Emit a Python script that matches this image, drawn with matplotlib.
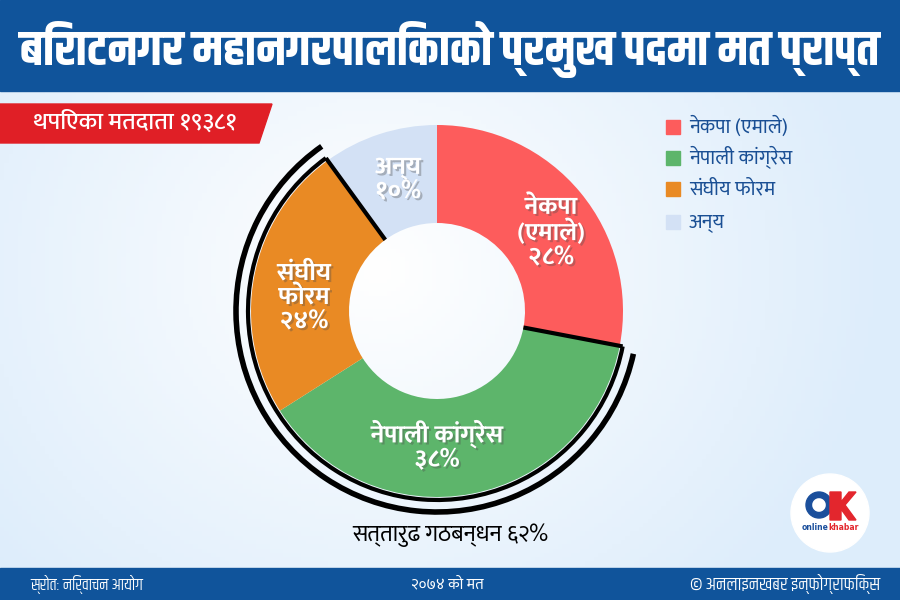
import numpy as np
import matplotlib
matplotlib.use('Agg')
from matplotlib import pyplot as plt
from matplotlib.patches import Rectangle, Polygon, Circle, Arc, Wedge
import matplotlib.patheffects as pe

# data
parties = ['नेकपा (एमाले)', 'नेपाली कांग्रेस', 'संघीय फोरम', 'अन्य']
labels_in = ['नेकपा\n(एमाले)\n२८%', 'नेपाली कांग्रेस\n३८%', 'संघीय\nफोरम\n२४%', 'अन्य\n१०%']
shares = [28, 38, 24, 10]
coalition = [1, 2]   # congress + forum
colors = ['#fd5c5c', '#5db56b', '#e98a24', '#d3e1f5']

title = 'बिराटनगर महानगरपालिकाको प्रमुख पदमा मत प्राप्त'
voters = 'थपिएका मतदाता १९३८१'
caption = 'सत्तारुढ गठबन्धन ६२%'
source = 'स्रोत: निर्वाचन आयोग'
year = '२०७४ को मत'
credit = '© अनलाइनखबर इन्फोग्राफिक्स'

deva = ['Mukta', 'Hind', 'Noto Sans Devanagari', 'DejaVu Sans']
deva_cond = ['Khand', 'Teko', 'Rajdhani', 'Mukta', 'Noto Sans Devanagari', 'DejaVu Sans']

fig = plt.figure(figsize=(9, 6), dpi=100)
ax = fig.add_axes([0, 0, 1, 1])

# background gradient
xx, yy = np.meshgrid(np.linspace(0, 1, 200), np.linspace(0, 1, 140))
g = np.clip(np.sqrt(((xx - 0.42) * 1.2) ** 2 + ((yy - 0.55) * 0.9) ** 2) * 1.5, 0, 1)
c0 = np.array([1.0, 1.0, 1.0])
c1 = np.array([0.87, 0.93, 0.985])
img = c0[None, None, :] * (1 - g[..., None]) + c1[None, None, :] * g[..., None]
ax.imshow(img, extent=(0, 900, 0, 600), origin='lower', zorder=0, aspect='auto')

# header and footer bands
ax.add_patch(Rectangle((0, 509), 900, 91, color='#10549b', zorder=1))
ax.add_patch(Rectangle((0, 0), 900, 32, color='#10549b', zorder=1))
ax.text(450, 551, title, color='white', fontsize=35.5, fontweight='bold',
        family=deva_cond, ha='center', va='center', zorder=2)

# red tag
ax.add_patch(Polygon([(0, 496), (272, 496), (259, 457), (0, 457)], closed=True,
                     color='#e01f26', zorder=1))
ax.text(135, 477, voters, color='white', fontsize=17.5, family=deva,
        fontweight='medium', ha='center', va='center', zorder=2)

# donut
cx, cy, r_out, r_in = 437, 289, 186, 88
wedges, _ = ax.pie(shares, colors=colors, startangle=90, counterclock=False,
                   center=(cx, cy), radius=r_out,
                   wedgeprops=dict(width=r_out - r_in, linewidth=0))
ax.set_xlim(0, 900)
ax.set_ylim(0, 600)
ax.set_aspect('auto')
ax.axis('off')
for w in wedges:
    w.set_zorder(3)

# labels inside wedges
lab_pos = [(551, 367), (437, 154), (304, 302), (398, 420)]
for lab, (x, y) in zip(labels_in, lab_pos):
    ax.text(x, y, lab, color='white', fontsize=18, fontweight='bold', family=deva,
            ha='center', va='center', linespacing=1.0, zorder=5,
            path_effects=[pe.withSimplePatchShadow(offset=(1.5, -1.5), alpha=0.35)])

# coalition outline
t_start = wedges[coalition[-1]].theta1   # upper left edge of forum
t_end = wedges[coalition[0]].theta2      # right edge of congress
for t in (t_start, t_end):
    a = np.deg2rad(t)
    ax.plot([cx + r_in * np.cos(a), cx + (r_out + 3) * np.cos(a)],
            [cy + r_in * np.sin(a), cy + (r_out + 3) * np.sin(a)],
            color='black', lw=3, solid_capstyle='butt', zorder=4)
ax.add_patch(Arc((cx, cy), 2 * (r_out + 3), 2 * (r_out + 3), theta1=t_start, theta2=t_end + 360,
                 color='black', lw=3, zorder=4))
ax.add_patch(Arc((cx, cy), 2 * (r_out + 15), 2 * (r_out + 15), theta1=t_start - 1, theta2=t_end + 360 - 1.5,
                 color='black', lw=4, zorder=4))
ax.text(450, 65, caption, color='black', fontsize=16.5, family=deva,
        ha='center', va='center', zorder=2)

# legend
leg_y = [473, 442, 411, 378]
for p, c, y in zip(parties, colors, leg_y):
    ax.add_patch(Rectangle((666, y - 7), 14, 14, color=c, zorder=2))
    ax.text(689, y, p, color='#1a4f94', fontsize=14.5, family=deva,
            ha='left', va='center', zorder=2)

# logo
ax.add_patch(Circle((830, 87), 39, color='white', zorder=2))
ax.add_patch(Wedge((819, 95), 13, 0, 360, width=5.5, color='#1b4f9c', zorder=3))
ax.add_patch(Polygon([(830, 108), (841, 108), (841, 98), (849, 108), (856, 108),
                      (845, 95), (856, 80), (849, 80), (841, 91), (841, 80), (830, 80)],
                     closed=True, color='#e3262d', zorder=3))
ax.text(828, 72, 'online', color='#1b4f9c', fontsize=5.5, fontweight='bold',
        ha='right', va='center', zorder=3)
ax.text(828, 72, 'khabar', color='#e3262d', fontsize=5.5, fontweight='bold',
        ha='left', va='center', zorder=3)

# footer text
ax.text(30, 16, source, color='white', fontsize=11.5, family=deva_cond,
        ha='left', va='center', zorder=2)
ax.text(447, 16, year, color='white', fontsize=11, family=deva,
        ha='center', va='center', zorder=2)
ax.text(880, 16, credit, color='white', fontsize=13, family=deva_cond,
        ha='right', va='center', zorder=2)

fig.savefig('out.png', dpi=100)
